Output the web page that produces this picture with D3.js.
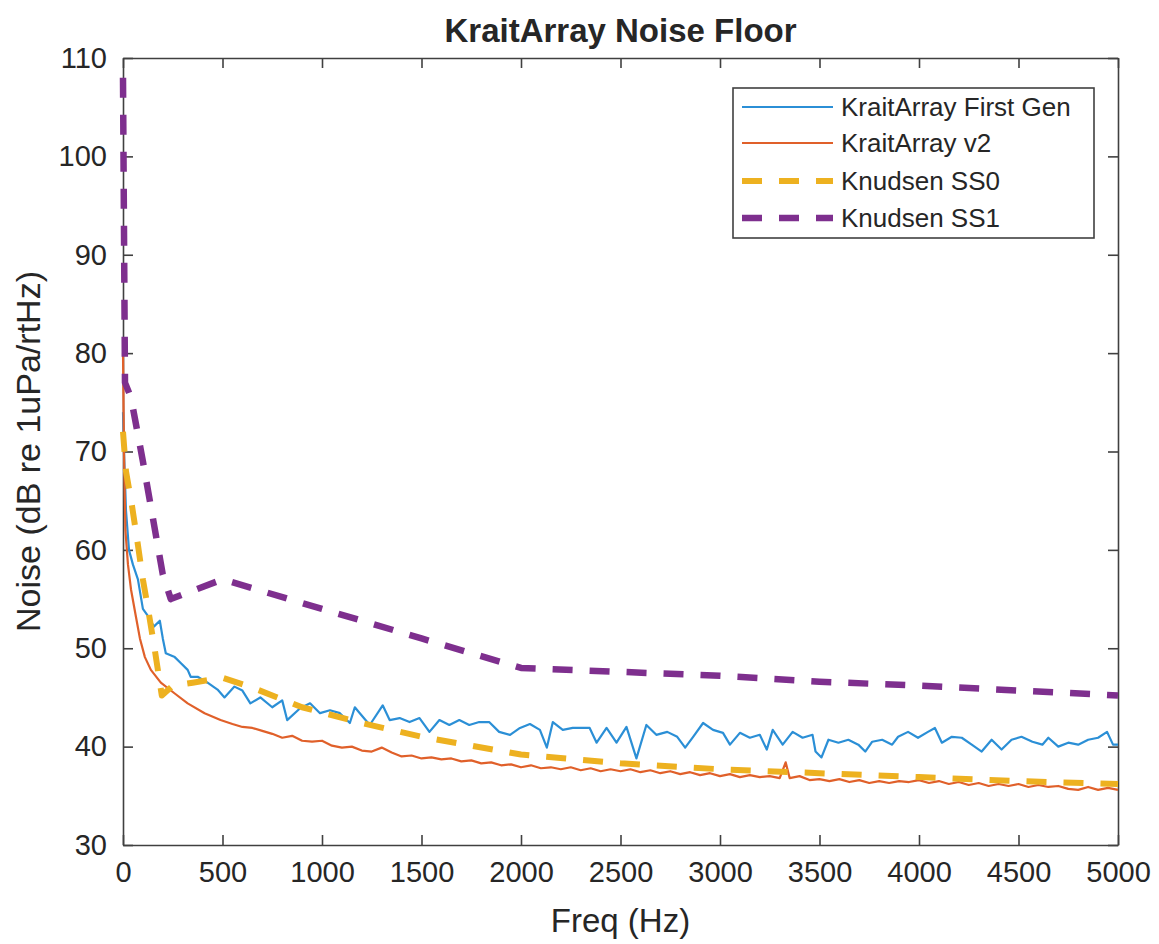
<!DOCTYPE html>
<meta charset="utf-8">
<html>
<head>
    <script src="https://cdnjs.cloudflare.com/ajax/libs/d3/7.8.5/d3.min.js"></script>
    <style type="text/css">
    body {
        margin: 0;
        background: white;
    }
    text {
        font-family: "Liberation Sans", Arial, sans-serif;
        fill: #262626;
    }
    .axis path, .axis line {
        stroke: #404040;
        stroke-width: 1.6px;
    }
    </style>
</head>
<body>
<script type="text/javascript">

    // ---- data ----
    var xTicks = [0, 500, 1000, 1500, 2000, 2500, 3000, 3500, 4000, 4500, 5000];
    var yTicks = [30, 40, 50, 60, 70, 80, 90, 100, 110];
    var seriesNames = ["KraitArray First Gen", "KraitArray v2", "Knudsen SS0", "Knudsen SS1"];

    // KraitArray First Gen
    var gen1Freq = [0, 5, 15, 30, 50, 75, 100, 125, 155, 185, 200, 215, 260, 290, 325, 340, 375, 425, 475, 510,
        560, 600, 640, 690, 750, 800, 825, 890, 940, 990, 1040, 1090, 1140, 1165, 1190, 1240, 1305, 1340, 1390, 1440,
        1490, 1540, 1590, 1640, 1690, 1740, 1790, 1840, 1890, 1945, 1995, 2045, 2095, 2130, 2160, 2210, 2260, 2345, 2380, 2430,
        2480, 2530, 2580, 2630, 2680, 2735, 2785, 2825, 2865, 2915, 2965, 3015, 3050, 3100, 3150, 3200, 3235, 3265, 3315, 3365,
        3415, 3465, 3480, 3510, 3545, 3595, 3645, 3695, 3730, 3765, 3815, 3865, 3895, 3945, 3995, 4045, 4080, 4115, 4165, 4215,
        4265, 4315, 4365, 4415, 4465, 4515, 4570, 4620, 4650, 4700, 4750, 4800, 4850, 4900, 4945, 4975, 5000];
    var gen1Noise = [74, 70, 64, 60, 58.5, 57, 54, 53.3, 52.2, 52.8, 51, 49.5, 49.1, 48.5, 47.8, 47.1, 47.1, 46.5, 45.8, 45,
        46.1, 45.7, 44.4, 45, 44, 44.7, 42.7, 43.9, 44.4, 43.4, 43.7, 43.4, 42.4, 44, 43.4, 42.2, 44.2, 42.7, 42.9, 42.5,
        42.9, 41.5, 42.7, 42.2, 42.7, 42.2, 42.5, 42.5, 41.5, 41.2, 41.9, 42.3, 41.7, 39.9, 42.5, 41.7, 41.9, 41.9, 40.4, 41.9,
        40.4, 42, 38.8, 42.2, 41.2, 41.5, 41, 39.9, 41, 42.4, 41.7, 41.4, 40.2, 41.4, 40.9, 41.2, 39.7, 41.7, 40.2, 41.5,
        40.9, 41.2, 39.5, 38.9, 40.7, 40.4, 40.7, 40.2, 39.5, 40.5, 40.7, 40.2, 41, 41.5, 40.9, 41.5, 41.9, 40.4, 41, 40.9,
        40.2, 39.5, 40.7, 39.7, 40.7, 41, 40.5, 40.2, 40.9, 40, 40.4, 40.2, 40.7, 40.9, 41.5, 40.2, 40.2];

    // KraitArray v2
    var v2Freq = [0, 5, 12, 25, 40, 65, 85, 110, 140, 190, 260, 325, 410, 490,
        550, 600, 650, 700, 750, 800, 850, 900, 950, 1000, 1050, 1100, 1150, 1200, 1250, 1300, 1350, 1400, 1450, 1500,
        1550, 1600, 1650, 1700, 1750, 1800, 1850, 1900, 1950, 2000, 2050, 2100, 2150, 2200, 2250, 2300, 2350, 2400, 2450, 2500,
        2550, 2600, 2650, 2700, 2750, 2800, 2850, 2900, 2950, 3000, 3050, 3100, 3150, 3200, 3250, 3300, 3330, 3350, 3400, 3450,
        3500, 3550, 3600, 3650, 3700, 3750, 3800, 3850, 3900, 3950, 4000, 4050, 4100, 4150, 4200, 4250, 4300, 4350, 4400, 4450,
        4500, 4550, 4600, 4650, 4700, 4750, 4800, 4850, 4900, 4950, 5000];
    var v2Noise = [80, 70, 62, 58.5, 56, 53.2, 51, 49.1, 47.8, 46.5, 45.4, 44.4, 43.4, 42.7,
        42.3, 42.0, 41.9, 41.6, 41.3, 40.9, 41.1, 40.6, 40.5, 40.6, 40.1, 39.9, 40.0, 39.6, 39.5, 39.9, 39.4, 39.0, 39.1, 38.8,
        38.9, 38.7, 38.8, 38.5, 38.6, 38.3, 38.4, 38.1, 38.2, 37.9, 38.1, 37.8, 37.9, 37.7, 37.9, 37.6, 37.8, 37.5, 37.7, 37.5,
        37.7, 37.4, 37.6, 37.3, 37.5, 37.2, 37.4, 37.1, 37.3, 37.0, 37.2, 36.9, 37.1, 36.9, 37.0, 36.8, 38.4, 36.8, 37.0, 36.6,
        36.7, 36.5, 36.7, 36.4, 36.6, 36.3, 36.5, 36.3, 36.5, 36.4, 36.6, 36.3, 36.5, 36.2, 36.4, 36.1, 36.3, 36.0, 36.2, 36.0,
        36.2, 35.9, 36.1, 35.9, 36.0, 35.7, 35.6, 35.9, 35.6, 35.8, 35.6];

    // Knudsen SS0
    var ss0Freq = [0, 15, 45, 75, 100, 130, 160, 195, 250, 350, 500, 650, 900, 1200, 1500, 2000, 2500, 3000, 3500, 4000, 4500, 5000];
    var ss0Noise = [72, 68, 64.5, 60.5, 57, 53.5, 49.8, 45.2, 46.2, 46.5, 47, 46, 44, 42.4, 41, 39.2, 38.3, 37.7, 37.3, 36.9, 36.5, 36.2];

    // Knudsen SS1
    var ss1Freq = [0, 10, 40, 100, 200, 240, 500, 1000, 1500, 2000, 2500, 3000, 3500, 4000, 4500, 5000];
    var ss1Noise = [108, 77, 75.5, 69, 57.5, 55, 57, 54, 51, 48, 47.6, 47.2, 46.6, 46.2, 45.7, 45.2];

    var colors = ["#2b8fd6", "#e0602a", "#edb120", "#7e2f8e"];

    // ---- layout ----
    var width = 1159, height = 944;
    var plotLeft = 123, plotRight = 1118, plotTop = 58, plotBottom = 845;

    var svg = d3.select("body")
        .append("svg")
        .attr("width", width)
        .attr("height", height);

    var x = d3.scaleLinear().domain([0, 5000]).range([plotLeft, plotRight]);
    var y = d3.scaleLinear().domain([30, 110]).range([plotBottom, plotTop]);

    var line = d3.line()
        .x(function(d) { return x(d[0]); })
        .y(function(d) { return y(d[1]); });

    function pairs(f, v) {
        return f.map(function(d, i) { return [d, v[i]]; });
    }

    var series = [
        {data: pairs(gen1Freq, gen1Noise), width: 2.2, dash: null},
        {data: pairs(v2Freq, v2Noise), width: 2.2, dash: null},
        {data: pairs(ss0Freq, ss0Noise), width: 6, dash: "20,17"},
        {data: pairs(ss1Freq, ss1Noise), width: 6.5, dash: "20,17"}
    ];

    // axes, ticks pointing inward like matlab
    svg.append("g").attr("class", "axis")
        .attr("transform", "translate(0," + plotBottom + ")")
        .call(d3.axisBottom(x).tickValues(xTicks).tickFormat(d3.format("d"))
            .tickSizeInner(-10).tickSizeOuter(0).tickPadding(16))
        .selectAll("text").style("font-size", "29px");

    svg.append("g").attr("class", "axis")
        .attr("transform", "translate(0," + plotTop + ")")
        .call(d3.axisTop(x).tickValues(xTicks).tickSizeInner(-10).tickSizeOuter(0).tickFormat(""));

    svg.append("g").attr("class", "axis")
        .attr("transform", "translate(" + plotLeft + ",0)")
        .call(d3.axisLeft(y).tickValues(yTicks).tickFormat(d3.format("d"))
            .tickSizeInner(-10).tickSizeOuter(0).tickPadding(16))
        .selectAll("text").style("font-size", "29px");

    svg.append("g").attr("class", "axis")
        .attr("transform", "translate(" + plotRight + ",0)")
        .call(d3.axisRight(y).tickValues(yTicks).tickSizeInner(-10).tickSizeOuter(0).tickFormat(""));

    svg.selectAll(".axis .tick text").attr("fill", "#262626");

    series.forEach(function(s, i) {
        svg.append("path")
            .datum(s.data)
            .attr("fill", "none")
            .attr("stroke", colors[i])
            .attr("stroke-width", s.width)
            .attr("stroke-dasharray", s.dash)
            .attr("stroke-linejoin", "round")
            .attr("d", line);
    });

    // title and axis labels
    svg.append("text")
        .attr("x", (plotLeft + plotRight) / 2)
        .attr("y", 42)
        .attr("text-anchor", "middle")
        .style("font-size", "33px")
        .style("font-weight", "bold")
        .text("KraitArray Noise Floor");

    svg.append("text")
        .attr("x", (plotLeft + plotRight) / 2)
        .attr("y", 932)
        .attr("text-anchor", "middle")
        .style("font-size", "33px")
        .text("Freq (Hz)");

    svg.append("text")
        .attr("transform", "translate(40," + ((plotTop + plotBottom) / 2) + ") rotate(-90)")
        .attr("text-anchor", "middle")
        .style("font-size", "34px")
        .text("Noise (dB re 1uPa/rtHz)");

    // legend
    var legend = svg.append("g").attr("transform", "translate(733,88)");
    legend.append("rect")
        .attr("width", 361)
        .attr("height", 150)
        .attr("fill", "white")
        .attr("stroke", "#404040")
        .attr("stroke-width", 1.6);

    var rows = [19, 55, 93, 130];
    seriesNames.forEach(function(name, i) {
        legend.append("line")
            .attr("x1", 9).attr("x2", 100)
            .attr("y1", rows[i]).attr("y2", rows[i])
            .attr("stroke", colors[i])
            .attr("stroke-width", series[i].width)
            .attr("stroke-dasharray", series[i].dash);
        legend.append("text")
            .attr("x", 108)
            .attr("y", rows[i])
            .attr("dy", "0.36em")
            .style("font-size", "26px")
            .text(name);
    });

</script>
</body>
</html>
